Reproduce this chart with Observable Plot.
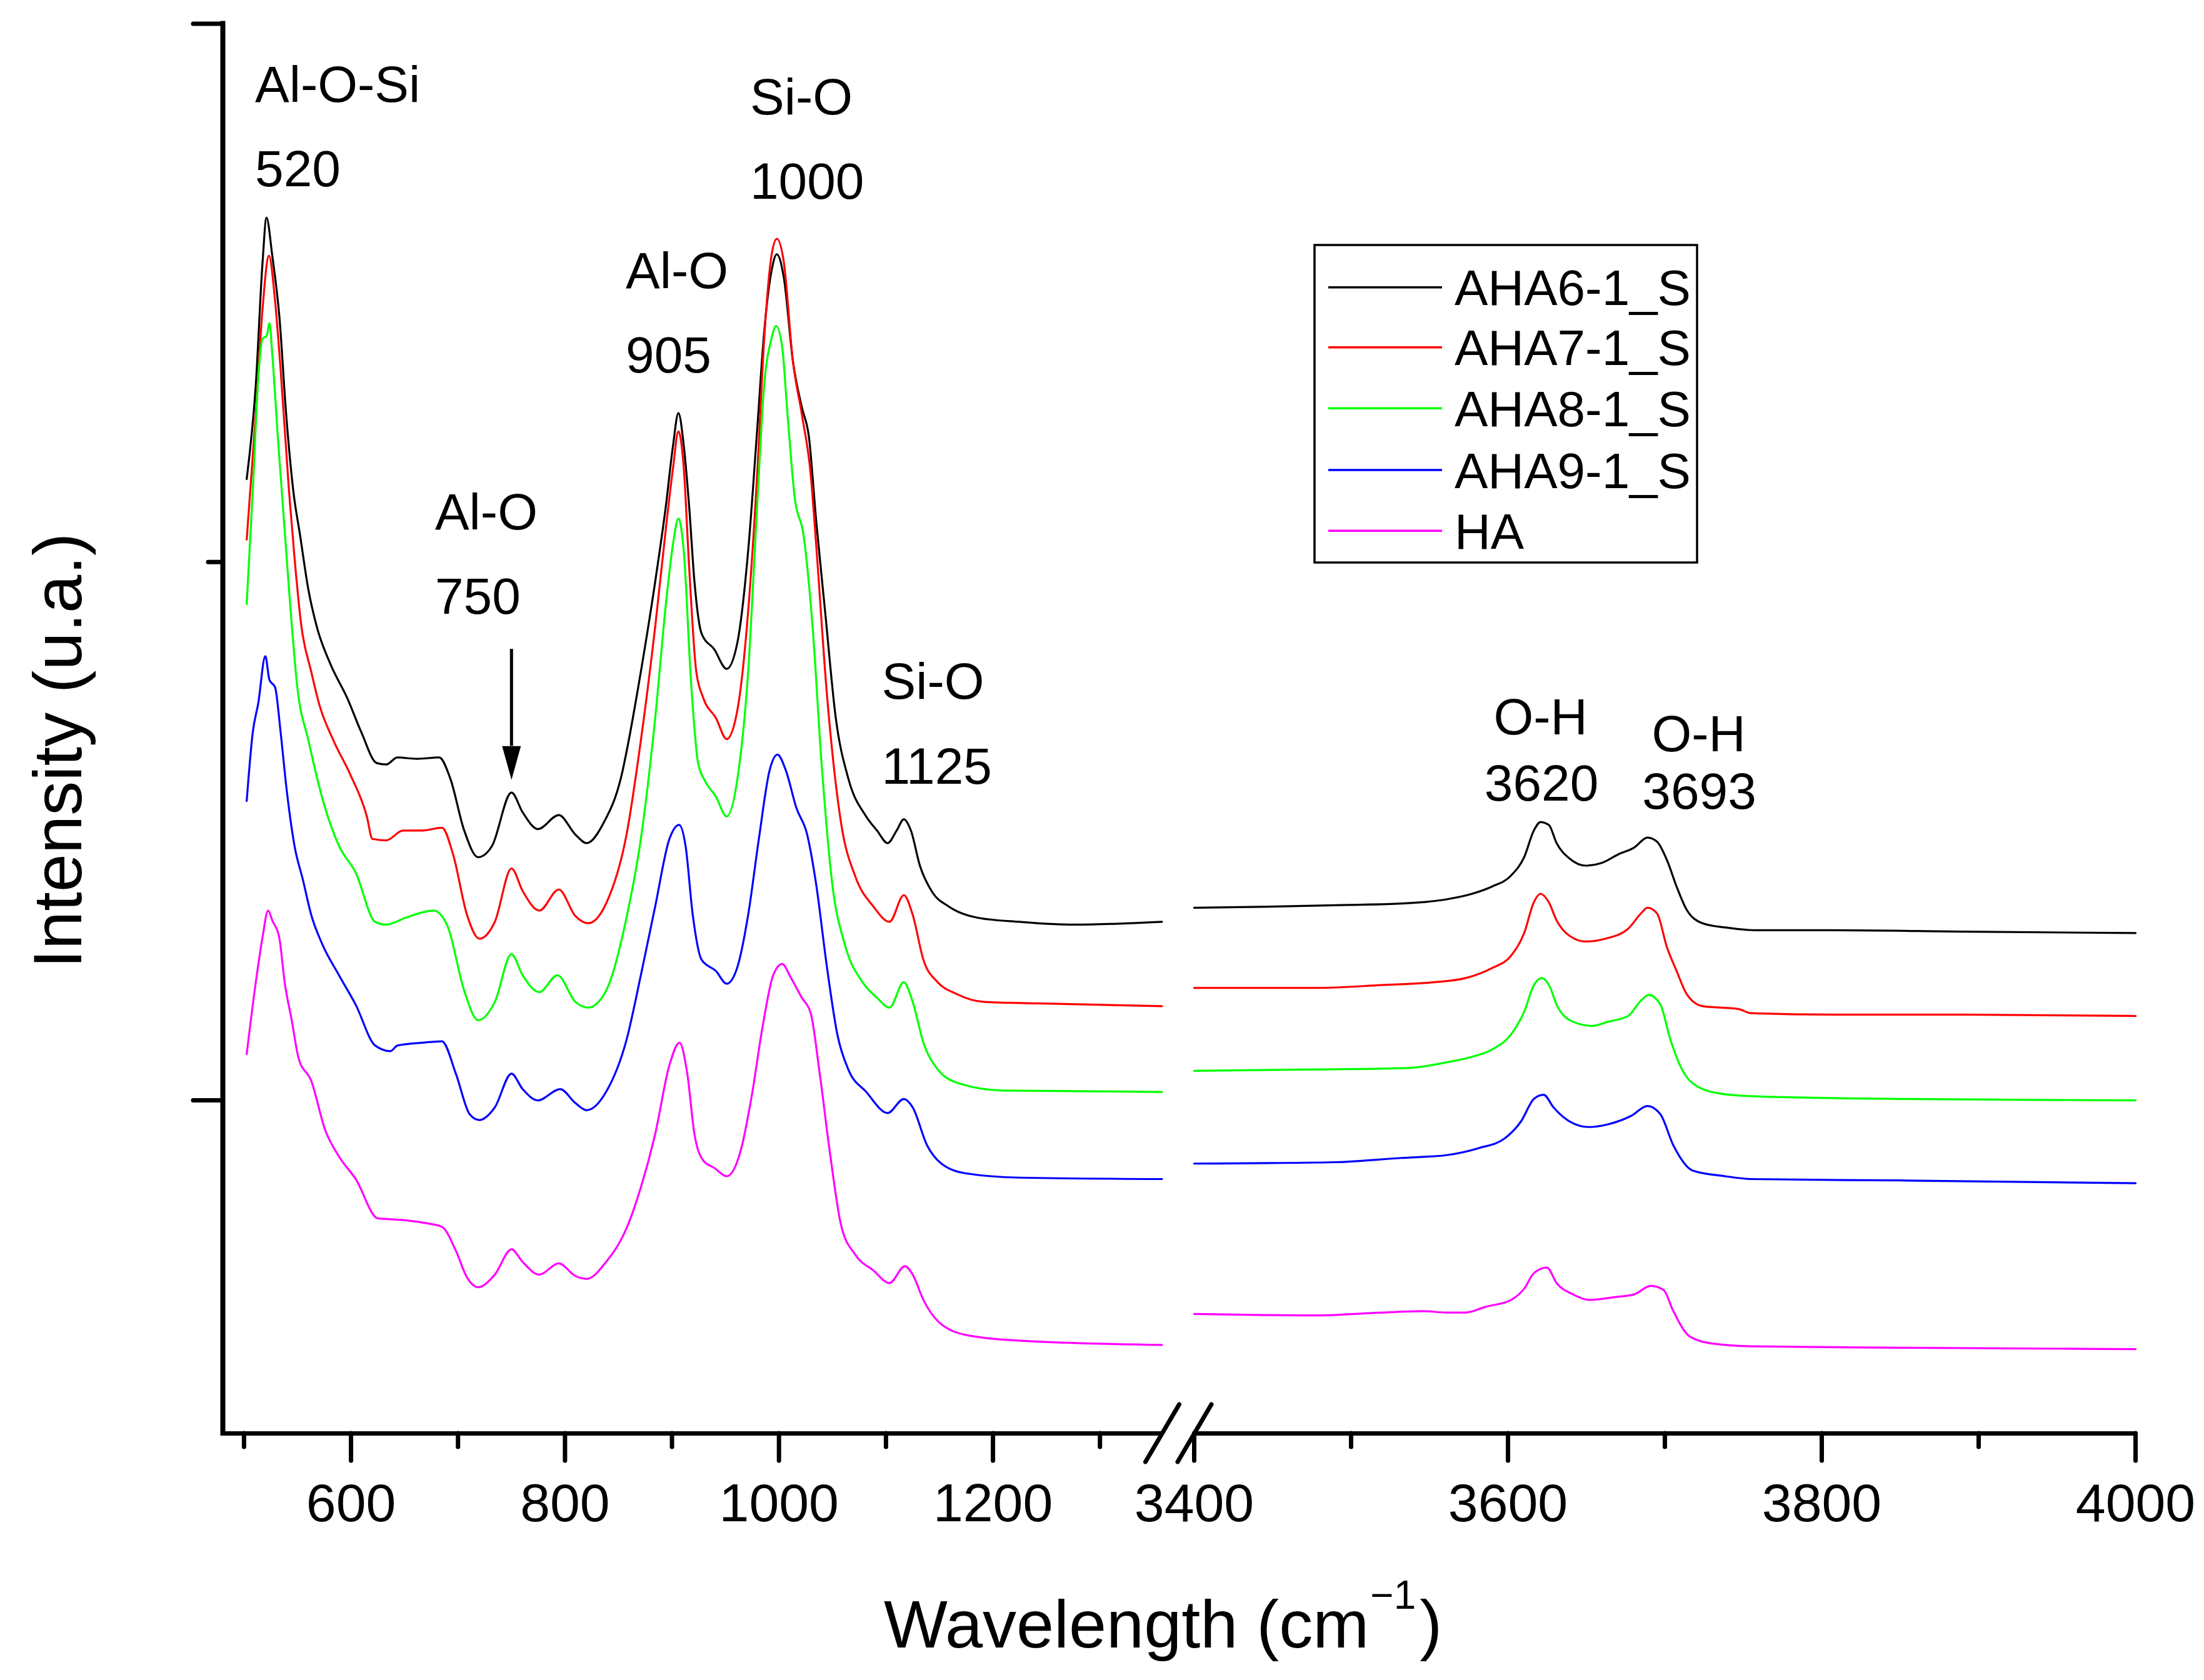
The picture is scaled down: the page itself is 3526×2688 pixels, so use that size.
<!DOCTYPE html>
<html>
<head>
<meta charset="utf-8">
<script src="https://cdn.jsdelivr.net/npm/d3@7"></script>
<script src="https://cdn.jsdelivr.net/npm/@observablehq/plot@0.6"></script>
<style>
  html, body { margin: 0; padding: 0; background: #ffffff; }
  #chart { width: 3526px; height: 2688px; }
</style>
</head>
<body>
<div id="chart"></div>
<script>
// ---------- series ----------
const seriesNames = ["AHA6-1_S", "AHA7-1_S", "AHA8-1_S", "AHA9-1_S", "HA"];
const seriesColors = ["#000000", "#ff0000", "#00ff00", "#0000ff", "#ff00ff"];

// [wavenumber (cm-1), intensity (a.u., offset stacked)] - low range 500-1358
const aha6Low = [[502.5,679],[511,746],[517.3,833],[521,865],[526.4,838],[533,795],[539.4,725],[546,671],[552.4,639],[560,601],[568,574],[581,547],[596.6,523],[609.6,499],[624,477],[633,476],[643.4,481],[661.6,480],[682.4,481],[692.8,466],[705.8,429],[718.8,410],[731.8,418],[750,456],[760.4,442],[774.7,430],[794.2,440],[809.8,426],[820.2,420],[835.8,434],[854,472],[857.5,485],[870.9,542],[884.3,606],[894.3,660],[901,703],[906,726],[911,703],[916,660],[921,606],[927.7,569],[939.4,558],[951.1,544],[961.2,563],[971.2,628],[979.6,714],[986.2,784],[993,827],[998,839],[1004.6,822],[1013,763],[1021.4,730],[1028,709],[1034.7,650],[1043.1,585],[1053.1,509],[1064.8,466],[1081.5,439],[1091.6,429],[1101.6,420],[1110,429],[1116.7,437],[1123.3,429],[1131.7,404],[1143.4,385],[1158.5,375],[1185.2,367],[1225.3,364],[1275.5,362],[1358,364]];
const aha7Low = [[502.5,636],[511,725],[517.3,800],[523.3,838],[529,806],[534.2,757],[542,671],[547.2,623],[553.7,574],[562.8,542],[570.6,518],[583.6,493],[599.2,469],[614.8,439],[620,423],[633,422],[648.6,429],[666.8,429],[685,431],[695.4,412],[708.4,369],[720,352],[734.4,364],[750,402],[760.4,386],[776,372],[794.2,387],[809.8,368],[821.5,363],[838.4,377],[857.5,426],[870.9,493],[884.3,574],[894.3,644],[901,687],[906,713],[911,687],[916,617],[922.7,542],[929.4,523],[941.1,509],[951.1,494],[961.2,515],[971.2,585],[979.6,682],[986.2,779],[993,838],[998,850],[1004.6,833],[1013,763],[1021.4,725],[1029.7,682],[1034.7,633],[1044.8,526],[1058.1,434],[1071.5,396],[1088.2,375],[1103.3,364],[1116.7,383],[1125,369],[1135,337],[1148.4,321],[1165.1,313],[1191.9,307],[1242,306],[1358,304]];
const aha8Low = [[502.5,590],[508.2,671],[513.4,752],[517.3,779],[521.2,781],[523.8,790],[526.4,768],[531.6,709],[536.8,655],[542,601],[549.8,531],[560.2,493],[575.8,445],[588.8,418],[604.4,399],[622.6,364],[633,362],[651.2,367],[677.2,372],[690.2,361],[705.8,315],[718.8,294],[734.4,307],[750,341],[760.4,326],[776,314],[792.9,326],[809.8,307],[821.5,303],[838.4,315],[857.5,367],[870.9,423],[884.3,509],[894.3,590],[901,633],[906,651],[911,628],[917.7,536],[924.4,477],[931.1,464],[941.1,453],[951.1,439],[961.2,466],[971.2,542],[979.6,660],[986.2,746],[993,779],[997.3,788],[1003,773],[1008,725],[1014.7,666],[1023,639],[1031.4,574],[1039.8,477],[1049.8,391],[1061.5,348],[1078.2,321],[1091.6,310],[1103.3,303],[1116.7,321],[1125,307],[1135,278],[1148.4,259],[1168.5,249],[1208.6,244],[1358,243]];
const aha9Low = [[502.5,450],[508.2,499],[513.4,520],[519.9,553],[523.8,536],[529,531],[534.2,499],[539.4,461],[547.2,418],[555,394],[562.8,369],[573.2,348],[588.8,326],[604.4,305],[622.6,276],[636.9,272],[643.4,276],[666.8,278],[685,279],[698,256],[711,227],[720,223],[734.4,232],[750,256],[760.4,245],[774.7,237],[795.5,245],[809.8,235],[820.2,230],[838.4,243],[857.5,280],[870.9,326],[884.3,375],[897.6,423],[906.7,433],[912.7,418],[919.4,369],[927.7,337],[941.1,329],[951.1,320],[961.2,332],[971.2,369],[981.2,423],[991.3,472],[998.6,483],[1006.3,472],[1016.3,445],[1026.4,426],[1034.7,391],[1044.8,332],[1054.8,283],[1064.8,259],[1081.5,243],[1101.6,228],[1116.7,238],[1125,232],[1138.4,205],[1151.8,192],[1175.2,185],[1225.3,182],[1358,181]];
const haLow = [[502.5,270],[511,321],[517.3,353],[522.5,372],[526.4,365],[532.9,353],[538,321],[544.6,294],[551,267],[562.8,251],[575.8,216],[588.8,197],[604.4,181],[625.2,153],[646,152],[666.8,150],[685,147],[698,130],[708.4,111],[718.8,104],[734.4,113],[750,131],[760.4,122],[776,113],[794.2,121],[809.8,112],[820.2,110],[838.4,122],[857.5,146],[870.9,175],[884.3,213],[897.6,262],[907,278],[914.3,256],[921,213],[929.4,194],[939.4,189],[951.1,183],[964.5,202],[974.5,240],[984.6,289],[994.6,326],[1003,334],[1011.3,324],[1021.4,310],[1029.7,299],[1038.1,256],[1048.1,197],[1058.1,148],[1071.5,127],[1088.2,116],[1103.3,107],[1117.7,119],[1125,113],[1135,95],[1148.4,80],[1175.2,70],[1225.3,66],[1358,63]];

// high range 3400-4000
const aha6High = [[3399.4,374],[3457.3,375],[3498.7,376],[3531.8,377],[3560.7,380],[3577.2,384],[3589.6,389],[3602,397],[3610.3,410],[3616.5,429],[3620.7,435],[3626,433],[3631,420],[3639.3,409],[3649.6,404],[3660,406],[3670.3,412],[3680.6,417],[3688.9,424],[3695,421],[3701.3,408],[3707.5,389],[3713.7,373],[3724,363],[3738.5,360],[3759.2,358],[3808.8,358],[3891.5,357],[4000,356]];
const aha7High = [[3399.4,317],[3478,317],[3519.3,319],[3552.4,321],[3573.1,324],[3589.6,331],[3602,340],[3610.3,356],[3616.5,378],[3620.7,384],[3626,378],[3631,365],[3639.3,354],[3649.6,350],[3662,352],[3676.5,359],[3684.8,370],[3688.9,374],[3695,370],[3701.3,346],[3707.5,329],[3713.7,313],[3724,304],[3746.8,302],[3755,299],[3808.8,298],[3891.5,298],[4000,297]];
const aha8High = [[3399.4,258],[3478,259],[3535.9,260],[3560.7,264],[3577.2,268],[3589.6,273],[3602,284],[3610.3,300],[3616.5,319],[3621.5,324],[3627,317],[3631,305],[3641.3,293],[3653.7,290],[3664,293],[3676.5,297],[3684.8,308],[3689.7,312],[3697.2,305],[3703.3,281],[3709.6,262],[3717.8,249],[3734.4,242],[3755,240],[3850.2,238],[4000,237]];
const aha9High = [[3399.4,192],[3490.4,193],[3531.8,196],[3560.7,198],[3581.4,203],[3598,210],[3608.3,222],[3616.5,238],[3622.7,241],[3629,232],[3639.3,222],[3651.7,218],[3664,220],[3678.6,226],[3688.9,233],[3697.2,227],[3705.4,205],[3717.8,187],[3738.5,183],[3755,181],[3850.2,180],[4000,178]];
const haHigh = [[3399.4,85],[3478,84],[3519.3,86],[3546.2,87],[3560.7,86],[3573.1,86],[3585.5,90],[3602,95],[3610.3,103],[3616.5,114],[3624.8,118],[3631,107],[3641.3,99],[3651.7,95],[3668.2,97],[3680.6,99],[3691,105],[3699.2,102],[3705.4,87],[3715.8,69],[3730.2,64],[3755,62],[3850.2,61],[4000,60]];

// ---------- axes ----------
const xBreakDomain = [480.2, 1358, 3400, 4000];
const xMajorTicks = [600, 800, 1000, 1200, 3400, 3600, 3800, 4000];
const xMinorTicks = [500, 700, 900, 1100, 1300, 3500, 3700, 3900];
const yDomain = [0, 1003];
const yMajorTicks = [237, 1003];
const yMinorTicks = [620];

// ---------- annotations ----------
const annotText = ["Al-O-Si", "520", "Al-O", "750", "Al-O", "905", "Si-O", "1000", "Si-O", "1125", "O-H", "3620", "O-H", "3693"];
const annotX = [510.3, 510.3, 678.5, 678.5, 856.8, 856.8, 973, 973, 1096, 1096, 3590.8, 3585, 3691.6, 3685.6];
const annotY = [959, 899, 655, 595, 826.6, 766.5, 950, 890, 534.5, 474, 509, 462, 497, 456];
const arrowX = [750];
const arrowTop = 558, arrowHeadBase = 489;

// ---------- build table ----------
const lowSets = [aha6Low, aha7Low, aha8Low, aha9Low, haLow];
const highSets = [aha6High, aha7High, aha8High, aha9High, haHigh];
const rows = [];
seriesNames.forEach((name, i) => {
  lowSets[i].forEach(([w, v]) => rows.push({series: name, part: "low", w, v}));
  highSets[i].forEach(([w, v]) => rows.push({series: name, part: "high", w, v}));
});
const annots = annotText.map((t, i) => ({t, x: annotX[i], y: annotY[i]}));

const headSymbol = {
  draw(context) {
    context.moveTo(-15, 0);
    context.lineTo(15, 0);
    context.lineTo(0, 54);
    context.closePath();
  }
};

const W = 3526, H = 2688;
const mL = 356, mR = 110, mT = 37, mB = 395;
const FONT = "'Liberation Sans', Arial, Helvetica, sans-serif";

const chart = Plot.plot({
  width: W,
  height: H,
  marginLeft: mL, marginRight: mR, marginTop: mT, marginBottom: mB,
  style: {fontFamily: FONT, background: "#ffffff", color: "#000000", overflow: "visible"},
  x: {type: "linear", domain: xBreakDomain, range: [mL, 1858.5, 1910, W - mR]},
  y: {domain: yDomain, range: [H - mB, mT + 0.5]},
  color: {type: "ordinal", domain: seriesNames, range: seriesColors},
  marks: [
    // axis lines
    Plot.ruleX([xBreakDomain[0]], {y1: yDomain[0], y2: yDomain[1], stroke: "#000", strokeWidth: 8, strokeLinecap: "square"}),
    Plot.ruleY([0], {x1: xBreakDomain[0], x2: xBreakDomain[1], stroke: "#000", strokeWidth: 7}),
    Plot.ruleY([0], {x1: xBreakDomain[2], x2: xBreakDomain[3], stroke: "#000", strokeWidth: 7}),
    // x ticks
    Plot.axisX({ticks: xMajorTicks, tickSize: 44, tickPadding: 35, fontSize: 86, strokeWidth: 7, strokeLinecap: "round", tickFormat: d3.format("d"), label: null}),
    Plot.axisX({ticks: xMinorTicks, tickSize: 22, strokeWidth: 7, strokeLinecap: "round", tickFormat: () => "", label: null}),
    // y ticks
    Plot.axisY({ticks: yMajorTicks, tickSize: 47, strokeWidth: 7, strokeLinecap: "round", tickFormat: () => "", label: null}),
    Plot.axisY({ticks: yMinorTicks, tickSize: 23, strokeWidth: 7, strokeLinecap: "round", tickFormat: () => "", label: null}),
    // spectra
    Plot.line(rows, {x: "w", y: "v", z: d => d.series + "-" + d.part, stroke: "series", strokeWidth: 3.2, curve: "monotone-x"}),
    // annotations
    Plot.text(annots, {x: "x", y: "y", text: "t", textAnchor: "start", lineAnchor: "middle", fontSize: 82, fill: "#000"}),
    Plot.ruleX(arrowX, {y1: arrowTop, y2: arrowHeadBase, stroke: "#000", strokeWidth: 5}),
    Plot.dot(arrowX, {x: d => d, y: arrowHeadBase, symbol: headSymbol, r: 10, fill: "#000", stroke: "none"})
  ]
});

document.getElementById("chart").appendChild(chart);

// ---------- decorations via d3 ----------
const svg = d3.select(chart);
const xs = chart.scale("x"), ys = chart.scale("y");
const y0 = ys.apply(0);

// axis break marks
[xBreakDomain[1], xBreakDomain[2]].forEach(v => {
  const px = xs.apply(v) + 1;
  svg.append("line")
    .attr("x1", px - 27).attr("y1", y0 + 46)
    .attr("x2", px + 27).attr("y2", y0 - 46)
    .attr("stroke", "#000").attr("stroke-width", 7).attr("stroke-linecap", "round");
});

// axis titles
const xt = svg.append("text")
  .attr("x", 1414).attr("y", 2636)
  .attr("text-anchor", "start")
  .attr("font-size", 108).attr("fill", "#000").attr("font-family", FONT);
xt.append("tspan").text("Wavelength (cm");
xt.append("tspan").attr("font-size", 64).attr("dx", 2).attr("dy", -62).text("\u22121");
xt.append("tspan").attr("font-size", 108).attr("dx", 6).attr("dy", 62).text(")");

svg.append("text")
  .attr("transform", "translate(130,1201) rotate(-90)")
  .attr("text-anchor", "middle")
  .attr("font-size", 110).attr("fill", "#000").attr("font-family", FONT)
  .text("Intensity (u.a.)");

// legend box
const lg = svg.append("g").attr("text-anchor", "start");
lg.append("rect")
  .attr("x", 2103).attr("y", 392).attr("width", 612).attr("height", 508)
  .attr("fill", "#fff").attr("stroke", "#000").attr("stroke-width", 3.5);
const legendY = [459.8, 555.8, 653.2, 751.9, 849.2];
seriesNames.forEach((name, i) => {
  lg.append("line")
    .attr("x1", 2125).attr("x2", 2307)
    .attr("y1", legendY[i]).attr("y2", legendY[i])
    .attr("stroke", seriesColors[i]).attr("stroke-width", 3.5);
  lg.append("text")
    .attr("x", 2327).attr("y", legendY[i] + 28.6)
    .attr("text-anchor", "start")
    .attr("font-size", 80).attr("fill", "#000").attr("font-family", FONT)
    .text(name);
});
</script>
</body>
</html>
